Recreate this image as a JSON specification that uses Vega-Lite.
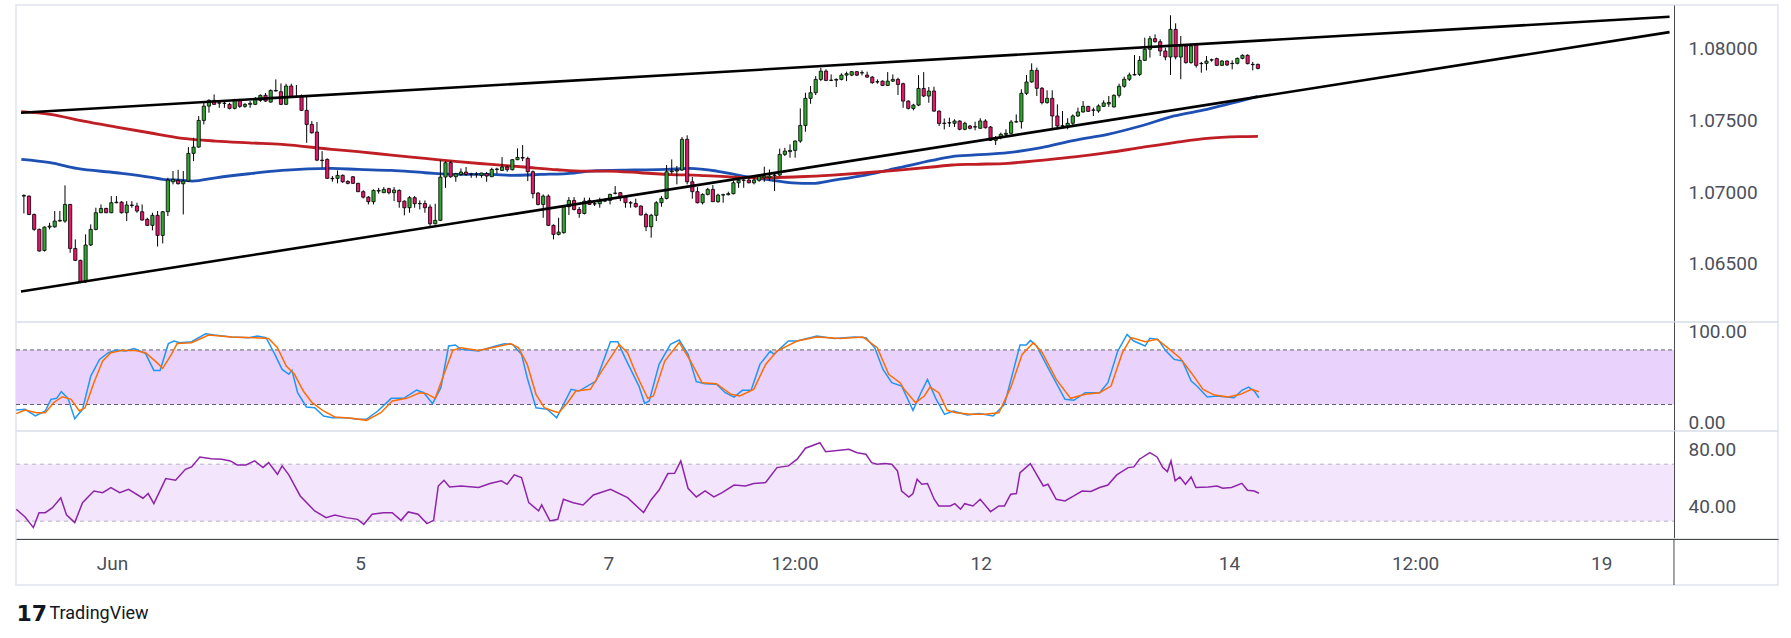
{
  "$schema": "https://vega.github.io/schema/vega-lite/v6.json",
  "background": "#ffffff",
  "padding": {"left": 14, "top": 4, "right": 15, "bottom": 15},
  "autosize": {"type": "pad"},
  "bounds": "flush",
  "spacing": 0,
  "resolve": {"scale": {"color": "independent"}},
  "datasets": {
    "candles": [
      {"t":-18,"o":1.06972,"h":1.06984,"l":1.06851,"c":1.06977},
      {"t":-17,"o":1.06972,"h":1.06977,"l":1.0684,"c":1.06844},
      {"t":-16,"o":1.06844,"h":1.0685,"l":1.0673,"c":1.0674},
      {"t":-15,"o":1.0674,"h":1.06745,"l":1.06585,"c":1.06589},
      {"t":-14,"o":1.06593,"h":1.0676,"l":1.06585,"c":1.06756},
      {"t":-13,"o":1.06756,"h":1.06786,"l":1.0674,"c":1.06763},
      {"t":-12,"o":1.06758,"h":1.06868,"l":1.06751,"c":1.06798},
      {"t":-11,"o":1.06798,"h":1.06868,"l":1.06795,"c":1.06803},
      {"t":-10,"o":1.06798,"h":1.07047,"l":1.06786,"c":1.06914},
      {"t":-9,"o":1.06914,"h":1.06918,"l":1.06577,"c":1.06607},
      {"t":-8,"o":1.06607,"h":1.0667,"l":1.06519,"c":1.06524},
      {"t":-7,"o":1.06524,"h":1.06528,"l":1.06368,"c":1.06375},
      {"t":-6,"o":1.06375,"h":1.06705,"l":1.06368,"c":1.06631},
      {"t":-5,"o":1.06631,"h":1.06775,"l":1.06624,"c":1.0674},
      {"t":-4,"o":1.0674,"h":1.06891,"l":1.06733,"c":1.06856},
      {"t":-3,"o":1.06856,"h":1.06914,"l":1.06853,"c":1.06886},
      {"t":-2,"o":1.06886,"h":1.06891,"l":1.06853,"c":1.06856},
      {"t":-1,"o":1.06856,"h":1.06972,"l":1.06853,"c":1.06926},
      {"t":0,"o":1.06926,"h":1.06972,"l":1.06922,"c":1.0693},
      {"t":1,"o":1.0693,"h":1.06937,"l":1.06851,"c":1.06856},
      {"t":2,"o":1.06856,"h":1.06937,"l":1.06798,"c":1.0691},
      {"t":3,"o":1.0691,"h":1.06937,"l":1.06891,"c":1.06907},
      {"t":4,"o":1.06903,"h":1.06926,"l":1.06856,"c":1.06868},
      {"t":5,"o":1.06863,"h":1.06914,"l":1.06802,"c":1.06805},
      {"t":6,"o":1.0681,"h":1.06821,"l":1.06763,"c":1.06768},
      {"t":7,"o":1.06768,"h":1.06856,"l":1.06733,"c":1.06838},
      {"t":8,"o":1.06838,"h":1.06868,"l":1.06621,"c":1.06698},
      {"t":9,"o":1.06698,"h":1.06868,"l":1.06642,"c":1.06863},
      {"t":10,"o":1.06863,"h":1.071,"l":1.06833,"c":1.07084},
      {"t":11,"o":1.07072,"h":1.07147,"l":1.07054,"c":1.07089},
      {"t":12,"o":1.07082,"h":1.07156,"l":1.07054,"c":1.07058},
      {"t":13,"o":1.07058,"h":1.07147,"l":1.06844,"c":1.07077},
      {"t":14,"o":1.07077,"h":1.07314,"l":1.07072,"c":1.0727},
      {"t":15,"o":1.0727,"h":1.07379,"l":1.07216,"c":1.07314},
      {"t":16,"o":1.07314,"h":1.0753,"l":1.07309,"c":1.075},
      {"t":17,"o":1.075,"h":1.07623,"l":1.07472,"c":1.076},
      {"t":18,"o":1.076,"h":1.07647,"l":1.07554,"c":1.0764},
      {"t":19,"o":1.0764,"h":1.07681,"l":1.07609,"c":1.07612},
      {"t":20,"o":1.07623,"h":1.07635,"l":1.07588,"c":1.0762},
      {"t":21,"o":1.0762,"h":1.07635,"l":1.07588,"c":1.07619},
      {"t":22,"o":1.07612,"h":1.07623,"l":1.07577,"c":1.07584},
      {"t":23,"o":1.07584,"h":1.07651,"l":1.07577,"c":1.07644},
      {"t":24,"o":1.07644,"h":1.07651,"l":1.07588,"c":1.07598},
      {"t":25,"o":1.07598,"h":1.0762,"l":1.07588,"c":1.07612},
      {"t":26,"o":1.07612,"h":1.07635,"l":1.07588,"c":1.07619},
      {"t":27,"o":1.07612,"h":1.07663,"l":1.07607,"c":1.07651},
      {"t":28,"o":1.0764,"h":1.07681,"l":1.0763,"c":1.07675},
      {"t":29,"o":1.07675,"h":1.07691,"l":1.0763,"c":1.07635},
      {"t":30,"o":1.07628,"h":1.07716,"l":1.07623,"c":1.07709},
      {"t":31,"o":1.07709,"h":1.07786,"l":1.07702,"c":1.07705},
      {"t":32,"o":1.077,"h":1.07758,"l":1.07607,"c":1.07612},
      {"t":33,"o":1.07612,"h":1.07756,"l":1.07607,"c":1.0774},
      {"t":34,"o":1.0774,"h":1.07756,"l":1.07658,"c":1.07663},
      {"t":35,"o":1.07663,"h":1.07747,"l":1.07658,"c":1.07668},
      {"t":36,"o":1.07663,"h":1.07681,"l":1.07565,"c":1.0757},
      {"t":37,"o":1.0757,"h":1.07663,"l":1.07344,"c":1.07472},
      {"t":38,"o":1.07472,"h":1.07495,"l":1.07407,"c":1.07414},
      {"t":39,"o":1.07419,"h":1.07489,"l":1.07216,"c":1.07223},
      {"t":40,"o":1.07223,"h":1.07286,"l":1.0717,"c":1.0722},
      {"t":41,"o":1.07228,"h":1.07235,"l":1.07093,"c":1.07096},
      {"t":42,"o":1.07096,"h":1.07112,"l":1.07072,"c":1.07093},
      {"t":43,"o":1.07096,"h":1.07151,"l":1.07061,"c":1.07117},
      {"t":44,"o":1.07117,"h":1.07123,"l":1.07065,"c":1.07072},
      {"t":45,"o":1.07075,"h":1.07082,"l":1.07054,"c":1.07061},
      {"t":46,"o":1.07107,"h":1.07112,"l":1.07058,"c":1.07061},
      {"t":47,"o":1.07061,"h":1.07065,"l":1.07,"c":1.07003},
      {"t":48,"o":1.07003,"h":1.07012,"l":1.06956,"c":1.06965},
      {"t":49,"o":1.06965,"h":1.06972,"l":1.06914,"c":1.06933},
      {"t":50,"o":1.06933,"h":1.07019,"l":1.06914,"c":1.07012},
      {"t":51,"o":1.07007,"h":1.0703,"l":1.06989,"c":1.07012},
      {"t":52,"o":1.06996,"h":1.07035,"l":1.06993,"c":1.07019},
      {"t":53,"o":1.07024,"h":1.0703,"l":1.06984,"c":1.06996},
      {"t":54,"o":1.06996,"h":1.07035,"l":1.06937,"c":1.07014},
      {"t":55,"o":1.07012,"h":1.07019,"l":1.06891,"c":1.06933},
      {"t":56,"o":1.06937,"h":1.06942,"l":1.06838,"c":1.06891},
      {"t":57,"o":1.06891,"h":1.06972,"l":1.06856,"c":1.06961},
      {"t":58,"o":1.06961,"h":1.06972,"l":1.06891,"c":1.06919},
      {"t":59,"o":1.06919,"h":1.06942,"l":1.06879,"c":1.06921},
      {"t":60,"o":1.06921,"h":1.06942,"l":1.06856,"c":1.06891},
      {"t":61,"o":1.06896,"h":1.06914,"l":1.06756,"c":1.06779},
      {"t":62,"o":1.06779,"h":1.06919,"l":1.06775,"c":1.06803},
      {"t":63,"o":1.06803,"h":1.07221,"l":1.06798,"c":1.07105},
      {"t":64,"o":1.07105,"h":1.07216,"l":1.0703,"c":1.07205},
      {"t":65,"o":1.07205,"h":1.07216,"l":1.071,"c":1.07107},
      {"t":66,"o":1.07107,"h":1.07135,"l":1.07072,"c":1.07128},
      {"t":67,"o":1.07123,"h":1.07165,"l":1.07112,"c":1.0714},
      {"t":68,"o":1.0714,"h":1.07175,"l":1.07112,"c":1.07123},
      {"t":69,"o":1.07126,"h":1.07135,"l":1.071,"c":1.07123},
      {"t":70,"o":1.07123,"h":1.0714,"l":1.071,"c":1.07126},
      {"t":71,"o":1.07117,"h":1.07135,"l":1.071,"c":1.07133},
      {"t":72,"o":1.0713,"h":1.0714,"l":1.07072,"c":1.07112},
      {"t":73,"o":1.07107,"h":1.0717,"l":1.07105,"c":1.07158},
      {"t":74,"o":1.07158,"h":1.0717,"l":1.07128,"c":1.07161},
      {"t":75,"o":1.07151,"h":1.07244,"l":1.07147,"c":1.07175},
      {"t":76,"o":1.07175,"h":1.07189,"l":1.07142,"c":1.07156},
      {"t":77,"o":1.07156,"h":1.0723,"l":1.07151,"c":1.07226},
      {"t":78,"o":1.07226,"h":1.07305,"l":1.07223,"c":1.07242},
      {"t":79,"o":1.07242,"h":1.07328,"l":1.07216,"c":1.07237},
      {"t":80,"o":1.07235,"h":1.07247,"l":1.07077,"c":1.07142},
      {"t":81,"o":1.07142,"h":1.07151,"l":1.06956,"c":1.06989},
      {"t":82,"o":1.06993,"h":1.07,"l":1.06907,"c":1.06914},
      {"t":83,"o":1.06914,"h":1.06984,"l":1.06821,"c":1.06972},
      {"t":84,"o":1.06972,"h":1.06984,"l":1.06763,"c":1.06768},
      {"t":85,"o":1.06768,"h":1.06775,"l":1.0667,"c":1.06705},
      {"t":86,"o":1.06705,"h":1.06821,"l":1.06698,"c":1.06721},
      {"t":87,"o":1.06717,"h":1.0691,"l":1.0671,"c":1.06898},
      {"t":88,"o":1.06898,"h":1.06965,"l":1.0684,"c":1.06942},
      {"t":89,"o":1.06942,"h":1.06965,"l":1.06872,"c":1.06879},
      {"t":90,"o":1.06879,"h":1.06896,"l":1.06821,"c":1.06851},
      {"t":91,"o":1.06851,"h":1.06961,"l":1.06844,"c":1.06937},
      {"t":92,"o":1.06942,"h":1.06961,"l":1.0691,"c":1.06914},
      {"t":93,"o":1.06919,"h":1.06942,"l":1.06903,"c":1.06917},
      {"t":94,"o":1.06919,"h":1.06961,"l":1.06891,"c":1.06942},
      {"t":95,"o":1.06937,"h":1.06954,"l":1.0693,"c":1.06942},
      {"t":96,"o":1.06942,"h":1.06989,"l":1.06914,"c":1.06984},
      {"t":97,"o":1.06991,"h":1.07042,"l":1.06984,"c":1.06993},
      {"t":98,"o":1.06996,"h":1.07,"l":1.06937,"c":1.06961},
      {"t":99,"o":1.06965,"h":1.06972,"l":1.06891,"c":1.06926},
      {"t":100,"o":1.06926,"h":1.06937,"l":1.06891,"c":1.06924},
      {"t":101,"o":1.06921,"h":1.06954,"l":1.06891,"c":1.06898},
      {"t":102,"o":1.06903,"h":1.06907,"l":1.06838,"c":1.0684},
      {"t":103,"o":1.06844,"h":1.06856,"l":1.06728,"c":1.06758},
      {"t":104,"o":1.06758,"h":1.06849,"l":1.06682,"c":1.06838},
      {"t":105,"o":1.06838,"h":1.06937,"l":1.06798,"c":1.06926},
      {"t":106,"o":1.06926,"h":1.06972,"l":1.06898,"c":1.06956},
      {"t":107,"o":1.06956,"h":1.07189,"l":1.06949,"c":1.07142},
      {"t":108,"o":1.07142,"h":1.07228,"l":1.07128,"c":1.07147},
      {"t":109,"o":1.07147,"h":1.07182,"l":1.07054,"c":1.07154},
      {"t":110,"o":1.07154,"h":1.07384,"l":1.07147,"c":1.07368},
      {"t":111,"o":1.07368,"h":1.07396,"l":1.07054,"c":1.07072},
      {"t":112,"o":1.07072,"h":1.07105,"l":1.06954,"c":1.07003},
      {"t":113,"o":1.07003,"h":1.07035,"l":1.06921,"c":1.06926},
      {"t":114,"o":1.06926,"h":1.06991,"l":1.06914,"c":1.06984},
      {"t":115,"o":1.06984,"h":1.0703,"l":1.06977,"c":1.07019},
      {"t":116,"o":1.07019,"h":1.07049,"l":1.06931,"c":1.06933},
      {"t":117,"o":1.06933,"h":1.06989,"l":1.06926,"c":1.06979},
      {"t":118,"o":1.06979,"h":1.06989,"l":1.06926,"c":1.06982},
      {"t":119,"o":1.06982,"h":1.07003,"l":1.06977,"c":1.06989},
      {"t":120,"o":1.06989,"h":1.07077,"l":1.06984,"c":1.07065},
      {"t":121,"o":1.07065,"h":1.071,"l":1.0703,"c":1.07082},
      {"t":122,"o":1.07082,"h":1.071,"l":1.0703,"c":1.07084},
      {"t":123,"o":1.07084,"h":1.07112,"l":1.07061,"c":1.07065},
      {"t":124,"o":1.07065,"h":1.07112,"l":1.07054,"c":1.07084},
      {"t":125,"o":1.07082,"h":1.07123,"l":1.07072,"c":1.0711},
      {"t":126,"o":1.071,"h":1.07177,"l":1.07072,"c":1.07112},
      {"t":127,"o":1.071,"h":1.07158,"l":1.07077,"c":1.07112},
      {"t":128,"o":1.07117,"h":1.07135,"l":1.07007,"c":1.07119},
      {"t":129,"o":1.07119,"h":1.07303,"l":1.07112,"c":1.07263},
      {"t":130,"o":1.07263,"h":1.07309,"l":1.07251,"c":1.07286},
      {"t":131,"o":1.07282,"h":1.07333,"l":1.0724,"c":1.07291},
      {"t":132,"o":1.07291,"h":1.07361,"l":1.0724,"c":1.07356},
      {"t":133,"o":1.07356,"h":1.07584,"l":1.07344,"c":1.07465},
      {"t":134,"o":1.07465,"h":1.07693,"l":1.07421,"c":1.07654},
      {"t":135,"o":1.07654,"h":1.0774,"l":1.07616,"c":1.07693},
      {"t":136,"o":1.07693,"h":1.07809,"l":1.07677,"c":1.07786},
      {"t":137,"o":1.07786,"h":1.07867,"l":1.07774,"c":1.07844},
      {"t":138,"o":1.07844,"h":1.07856,"l":1.07774,"c":1.07779},
      {"t":139,"o":1.07779,"h":1.07821,"l":1.07774,"c":1.07781},
      {"t":140,"o":1.07781,"h":1.07793,"l":1.07733,"c":1.07786},
      {"t":141,"o":1.07786,"h":1.07828,"l":1.07779,"c":1.07816},
      {"t":142,"o":1.07816,"h":1.0784,"l":1.07774,"c":1.07826},
      {"t":143,"o":1.07816,"h":1.07844,"l":1.07809,"c":1.0784},
      {"t":144,"o":1.0784,"h":1.07844,"l":1.07809,"c":1.07816},
      {"t":145,"o":1.07831,"h":1.07849,"l":1.07814,"c":1.07833},
      {"t":146,"o":1.07816,"h":1.0784,"l":1.07798,"c":1.07802},
      {"t":147,"o":1.07802,"h":1.07809,"l":1.07756,"c":1.07763},
      {"t":148,"o":1.07768,"h":1.07786,"l":1.07756,"c":1.0777},
      {"t":149,"o":1.07774,"h":1.07779,"l":1.0774,"c":1.07744},
      {"t":150,"o":1.07744,"h":1.07837,"l":1.0774,"c":1.07774},
      {"t":151,"o":1.07774,"h":1.07821,"l":1.07768,"c":1.07786},
      {"t":152,"o":1.07786,"h":1.07798,"l":1.07677,"c":1.07751},
      {"t":153,"o":1.07756,"h":1.07763,"l":1.07588,"c":1.07635},
      {"t":154,"o":1.07635,"h":1.0764,"l":1.07577,"c":1.07584},
      {"t":155,"o":1.07584,"h":1.07616,"l":1.0757,"c":1.07607},
      {"t":156,"o":1.07607,"h":1.07816,"l":1.076,"c":1.07723},
      {"t":157,"o":1.07723,"h":1.07837,"l":1.07663,"c":1.0767},
      {"t":158,"o":1.0767,"h":1.07733,"l":1.07623,"c":1.07705},
      {"t":159,"o":1.07705,"h":1.07735,"l":1.07561,"c":1.07565},
      {"t":160,"o":1.07565,"h":1.0757,"l":1.07461,"c":1.07479},
      {"t":161,"o":1.07479,"h":1.07514,"l":1.07437,"c":1.07481},
      {"t":162,"o":1.07484,"h":1.07519,"l":1.07454,"c":1.07482},
      {"t":163,"o":1.0748,"h":1.07508,"l":1.07454,"c":1.07496},
      {"t":164,"o":1.07496,"h":1.07501,"l":1.07431,"c":1.07438},
      {"t":165,"o":1.07438,"h":1.07491,"l":1.07431,"c":1.0748},
      {"t":166,"o":1.07461,"h":1.07468,"l":1.07438,"c":1.07445},
      {"t":167,"o":1.07454,"h":1.07491,"l":1.07431,"c":1.07456},
      {"t":168,"o":1.07445,"h":1.07515,"l":1.07443,"c":1.07496},
      {"t":169,"o":1.07496,"h":1.07508,"l":1.07443,"c":1.07449},
      {"t":170,"o":1.07454,"h":1.07461,"l":1.07356,"c":1.07361},
      {"t":171,"o":1.07361,"h":1.07391,"l":1.07329,"c":1.0738},
      {"t":172,"o":1.0738,"h":1.07415,"l":1.07368,"c":1.07403},
      {"t":173,"o":1.07403,"h":1.07438,"l":1.07391,"c":1.0741},
      {"t":174,"o":1.0741,"h":1.07503,"l":1.07403,"c":1.07489},
      {"t":175,"o":1.07489,"h":1.07542,"l":1.07484,"c":1.07491},
      {"t":176,"o":1.07491,"h":1.07717,"l":1.07443,"c":1.07689},
      {"t":177,"o":1.07689,"h":1.07817,"l":1.07677,"c":1.07768},
      {"t":178,"o":1.07768,"h":1.07898,"l":1.07763,"c":1.07849},
      {"t":179,"o":1.07849,"h":1.07868,"l":1.0767,"c":1.07724},
      {"t":180,"o":1.07724,"h":1.07733,"l":1.07612,"c":1.07624},
      {"t":181,"o":1.07624,"h":1.0771,"l":1.07617,"c":1.07654},
      {"t":182,"o":1.07654,"h":1.0771,"l":1.07445,"c":1.07531},
      {"t":183,"o":1.07531,"h":1.07612,"l":1.07454,"c":1.07461},
      {"t":184,"o":1.07461,"h":1.07566,"l":1.07449,"c":1.07463},
      {"t":185,"o":1.07456,"h":1.07515,"l":1.07438,"c":1.0748},
      {"t":186,"o":1.0748,"h":1.07542,"l":1.07466,"c":1.07531},
      {"t":187,"o":1.07531,"h":1.07589,"l":1.07524,"c":1.07559},
      {"t":188,"o":1.07559,"h":1.07635,"l":1.07554,"c":1.07598},
      {"t":189,"o":1.07598,"h":1.07601,"l":1.07559,"c":1.07563},
      {"t":190,"o":1.07573,"h":1.07589,"l":1.07531,"c":1.07571},
      {"t":191,"o":1.07566,"h":1.07612,"l":1.07554,"c":1.07601},
      {"t":192,"o":1.07598,"h":1.0764,"l":1.07594,"c":1.07622},
      {"t":193,"o":1.07615,"h":1.0767,"l":1.07594,"c":1.07625},
      {"t":194,"o":1.07594,"h":1.07682,"l":1.0759,"c":1.07675},
      {"t":195,"o":1.07675,"h":1.07756,"l":1.07659,"c":1.07738},
      {"t":196,"o":1.07738,"h":1.07805,"l":1.07728,"c":1.07787},
      {"t":197,"o":1.07787,"h":1.07833,"l":1.07775,"c":1.07817},
      {"t":198,"o":1.07817,"h":1.07956,"l":1.07814,"c":1.07821},
      {"t":199,"o":1.07821,"h":1.07949,"l":1.0781,"c":1.07919},
      {"t":200,"o":1.07919,"h":1.08077,"l":1.07914,"c":1.07996},
      {"t":201,"o":1.07996,"h":1.08089,"l":1.07938,"c":1.0807},
      {"t":202,"o":1.0807,"h":1.081,"l":1.08042,"c":1.08049},
      {"t":203,"o":1.08049,"h":1.08066,"l":1.07949,"c":1.07984},
      {"t":204,"o":1.07984,"h":1.08007,"l":1.07919,"c":1.07942},
      {"t":205,"o":1.07942,"h":1.08233,"l":1.07817,"c":1.08135},
      {"t":206,"o":1.08135,"h":1.08177,"l":1.07926,"c":1.07942},
      {"t":207,"o":1.07942,"h":1.08089,"l":1.07787,"c":1.08019},
      {"t":208,"o":1.08019,"h":1.08031,"l":1.07896,"c":1.07903},
      {"t":209,"o":1.07903,"h":1.08035,"l":1.07896,"c":1.08019},
      {"t":210,"o":1.08031,"h":1.08035,"l":1.07868,"c":1.07884},
      {"t":211,"o":1.07898,"h":1.07908,"l":1.07833,"c":1.07896},
      {"t":212,"o":1.07898,"h":1.07949,"l":1.07849,"c":1.07914},
      {"t":213,"o":1.07921,"h":1.07931,"l":1.0791,"c":1.07923},
      {"t":214,"o":1.07931,"h":1.07938,"l":1.0788,"c":1.07884},
      {"t":215,"o":1.07884,"h":1.07921,"l":1.0788,"c":1.07914},
      {"t":216,"o":1.07914,"h":1.07919,"l":1.0788,"c":1.07887},
      {"t":217,"o":1.07898,"h":1.07919,"l":1.07856,"c":1.07896},
      {"t":218,"o":1.07898,"h":1.07938,"l":1.07891,"c":1.07933},
      {"t":219,"o":1.07933,"h":1.07961,"l":1.07926,"c":1.07954},
      {"t":220,"o":1.07954,"h":1.07961,"l":1.07891,"c":1.07896},
      {"t":221,"o":1.07891,"h":1.07908,"l":1.07849,"c":1.07889},
      {"t":222,"o":1.07891,"h":1.07896,"l":1.07856,"c":1.07863}
    ],
    "ma": [
      {"s":"b","t":-18.5,"v":1.07228},{"s":"b","t":-12.9,"v":1.07205},{"s":"b","t":-7.7,"v":1.07165},
      {"s":"b","t":0,"v":1.07135},{"s":"b","t":6.4,"v":1.07105},{"s":"b","t":9,"v":1.07089},
      {"s":"b","t":12.9,"v":1.07082},{"s":"b","t":14.8,"v":1.07077},{"s":"b","t":19.3,"v":1.071},
      {"s":"b","t":25.8,"v":1.07128},{"s":"b","t":32.2,"v":1.07151},{"s":"b","t":41.9,"v":1.07165},
      {"s":"b","t":47,"v":1.07158},{"s":"b","t":53.5,"v":1.07151},{"s":"b","t":60,"v":1.07135},
      {"s":"b","t":66.4,"v":1.07123},{"s":"b","t":72.9,"v":1.07123},{"s":"b","t":76.7,"v":1.07117},
      {"s":"b","t":82.5,"v":1.07123},{"s":"b","t":89,"v":1.07133},{"s":"b","t":92.2,"v":1.07147},
      {"s":"b","t":100.6,"v":1.07154},{"s":"b","t":107,"v":1.07158},{"s":"b","t":111.5,"v":1.07165},
      {"s":"b","t":116.7,"v":1.07147},{"s":"b","t":121.8,"v":1.07112},{"s":"b","t":126.4,"v":1.07089},
      {"s":"b","t":131.5,"v":1.07065},{"s":"b","t":135.4,"v":1.07061},{"s":"b","t":139.3,"v":1.07082},
      {"s":"b","t":145.7,"v":1.07119},{"s":"b","t":152.2,"v":1.0717},{"s":"b","t":158.6,"v":1.07221},
      {"s":"b","t":162.5,"v":1.07248},{"s":"b","t":167,"v":1.07259},{"s":"b","t":173.4,"v":1.07275},
      {"s":"b","t":179.9,"v":1.0731},{"s":"b","t":186.3,"v":1.07361},{"s":"b","t":192.8,"v":1.07403},
      {"s":"b","t":199.2,"v":1.07461},{"s":"b","t":205.7,"v":1.07531},{"s":"b","t":212.1,"v":1.07577},
      {"s":"b","t":218.5,"v":1.07635},{"s":"b","t":222,"v":1.07668},
      {"s":"r","t":-18.5,"v":1.07561},{"s":"r","t":-12.9,"v":1.07542},{"s":"r","t":-6.4,"v":1.07495},
      {"s":"r","t":0,"v":1.07454},{"s":"r","t":6.4,"v":1.07414},{"s":"r","t":12.9,"v":1.07375},
      {"s":"r","t":19.3,"v":1.07356},{"s":"r","t":25.8,"v":1.07344},{"s":"r","t":32.2,"v":1.07333},
      {"s":"r","t":41.9,"v":1.07298},{"s":"r","t":47,"v":1.07282},{"s":"r","t":53.5,"v":1.07258},
      {"s":"r","t":60,"v":1.07235},{"s":"r","t":66.4,"v":1.07212},{"s":"r","t":72.9,"v":1.07193},
      {"s":"r","t":79.3,"v":1.07175},{"s":"r","t":85.8,"v":1.07156},{"s":"r","t":90.9,"v":1.07147},
      {"s":"r","t":95.4,"v":1.07147},{"s":"r","t":101.9,"v":1.07135},{"s":"r","t":107,"v":1.07123},
      {"s":"r","t":113.4,"v":1.07117},{"s":"r","t":119.9,"v":1.07105},{"s":"r","t":126.4,"v":1.071},
      {"s":"r","t":132.8,"v":1.07107},{"s":"r","t":139.3,"v":1.07119},{"s":"r","t":145.7,"v":1.07135},
      {"s":"r","t":152.2,"v":1.07154},{"s":"r","t":158.6,"v":1.07175},{"s":"r","t":162.5,"v":1.07189},
      {"s":"r","t":167,"v":1.07194},{"s":"r","t":173.4,"v":1.07201},{"s":"r","t":179.9,"v":1.07222},
      {"s":"r","t":186.3,"v":1.07245},{"s":"r","t":192.8,"v":1.07275},{"s":"r","t":199.2,"v":1.0731},
      {"s":"r","t":205.7,"v":1.07345},{"s":"r","t":212.1,"v":1.07375},{"s":"r","t":218.5,"v":1.07387},
      {"s":"r","t":222,"v":1.07389}
    ],
    "trend": [
      {"id":"u","t":-18.56,"p":1.07554},{"id":"u","t":302.06,"p":1.08223},
      {"id":"l","t":-18.56,"p":1.06307},{"id":"l","t":302.06,"p":1.08116}
    ],
    "stoch": [
      {"s":"k","t":-18.5,"v":14},{"s":"k","t":-16.8,"v":14.7},{"s":"k","t":-14.8,"v":7.4},{"s":"k","t":-12.9,"v":12.9},
      {"s":"k","t":-11.8,"v":25.7},{"s":"k","t":-10.7,"v":26.8},{"s":"k","t":-9.8,"v":34.1},{"s":"k","t":-8.5,"v":26.8},
      {"s":"k","t":-7.2,"v":4.4},{"s":"k","t":-5.7,"v":14.7},{"s":"k","t":-4.1,"v":51.3},{"s":"k","t":-2.4,"v":69.6},
      {"s":"k","t":-0.7,"v":77},{"s":"k","t":0.9,"v":79.9},{"s":"k","t":2.6,"v":78.8},{"s":"k","t":4.3,"v":81.4},
      {"s":"k","t":6.5,"v":75.9},{"s":"k","t":8.1,"v":57.5},{"s":"k","t":9.3,"v":57.5},{"s":"k","t":10.9,"v":86.9},
      {"s":"k","t":12,"v":89.8},{"s":"k","t":13.1,"v":88},{"s":"k","t":15.4,"v":89.1},{"s":"k","t":18.1,"v":97.8},
      {"s":"k","t":19.8,"v":96.4},{"s":"k","t":23.1,"v":94.2},{"s":"k","t":26.5,"v":93.5},{"s":"k","t":28.1,"v":95.3},
      {"s":"k","t":29.8,"v":93.5},{"s":"k","t":31.5,"v":75.1},{"s":"k","t":32.9,"v":58.6},{"s":"k","t":34.2,"v":53.2},
      {"s":"k","t":34.8,"v":57.5},{"s":"k","t":35.9,"v":33},{"s":"k","t":37.6,"v":17.3},{"s":"k","t":39.2,"v":16.5},
      {"s":"k","t":40.9,"v":7.4},{"s":"k","t":42.6,"v":5.5},{"s":"k","t":45.3,"v":5.5},{"s":"k","t":47.5,"v":3.7},
      {"s":"k","t":49.2,"v":3.7},{"s":"k","t":51.4,"v":12.9},{"s":"k","t":54,"v":26.8},{"s":"k","t":56.4,"v":26.8},
      {"s":"k","t":58.9,"v":35.9},{"s":"k","t":60.3,"v":33},{"s":"k","t":62,"v":20.9},{"s":"k","t":63.6,"v":38.5},
      {"s":"k","t":65.1,"v":84.3},{"s":"k","t":66.4,"v":85.4},{"s":"k","t":67.5,"v":80.6},{"s":"k","t":70.9,"v":78.8},
      {"s":"k","t":74.2,"v":84.3},{"s":"k","t":75.9,"v":86.9},{"s":"k","t":77.5,"v":86.1},{"s":"k","t":79.2,"v":75.1},
      {"s":"k","t":80.3,"v":49.5},{"s":"k","t":82,"v":16.5},{"s":"k","t":84.2,"v":14.7},{"s":"k","t":86,"v":5.5},
      {"s":"k","t":87,"v":16.5},{"s":"k","t":88.8,"v":36.7},{"s":"k","t":90.3,"v":34.8},{"s":"k","t":93.6,"v":45.8},
      {"s":"k","t":96.4,"v":89.1},{"s":"k","t":97.8,"v":89.1},{"s":"k","t":99.2,"v":71.5},{"s":"k","t":101.9,"v":40.3},
      {"s":"k","t":103,"v":21.3},{"s":"k","t":103.9,"v":23.9},{"s":"k","t":105.8,"v":64.1},{"s":"k","t":108,"v":86.1},
      {"s":"k","t":109.7,"v":90.9},{"s":"k","t":111.4,"v":75.1},{"s":"k","t":113,"v":45.1},{"s":"k","t":114.7,"v":42.9},
      {"s":"k","t":116.9,"v":42.2},{"s":"k","t":118.6,"v":33},{"s":"k","t":120.3,"v":28.2},{"s":"k","t":121.9,"v":35.6},
      {"s":"k","t":123.6,"v":35.6},{"s":"k","t":125.3,"v":64.1},{"s":"k","t":127.3,"v":78.8},{"s":"k","t":128,"v":75.1},
      {"s":"k","t":130.8,"v":89.8},{"s":"k","t":132.5,"v":89.8},{"s":"k","t":136.3,"v":95.3},{"s":"k","t":139.7,"v":92.7},
      {"s":"k","t":143.6,"v":94.2},{"s":"k","t":145.8,"v":93.5},{"s":"k","t":147.5,"v":82.5},{"s":"k","t":149.1,"v":58.6},
      {"s":"k","t":150.8,"v":44},{"s":"k","t":152.7,"v":40.3},{"s":"k","t":154.9,"v":13.6},{"s":"k","t":156.6,"v":34.8},
      {"s":"k","t":157.7,"v":47.6},{"s":"k","t":159.3,"v":26.8},{"s":"k","t":161,"v":9.2},{"s":"k","t":162.7,"v":12.9},
      {"s":"k","t":165.4,"v":8.5},{"s":"k","t":167.7,"v":10},{"s":"k","t":170.4,"v":7.4},{"s":"k","t":172.6,"v":20.2},
      {"s":"k","t":175.6,"v":85.4},{"s":"k","t":176.8,"v":85.4},{"s":"k","t":177.6,"v":90.5},{"s":"k","t":178.8,"v":84.3},
      {"s":"k","t":181,"v":60.5},{"s":"k","t":184.3,"v":25.7},{"s":"k","t":186,"v":24.6},{"s":"k","t":188.2,"v":33},
      {"s":"k","t":191,"v":33},{"s":"k","t":192.6,"v":44},{"s":"k","t":194.5,"v":78.8},{"s":"k","t":196.3,"v":97.1},
      {"s":"k","t":197.6,"v":89.8},{"s":"k","t":199.8,"v":84.3},{"s":"k","t":200.7,"v":92.7},{"s":"k","t":202.3,"v":91.6},
      {"s":"k","t":203.7,"v":79.5},{"s":"k","t":205.4,"v":69.6},{"s":"k","t":207,"v":67.8},{"s":"k","t":208.7,"v":45.8},
      {"s":"k","t":209.8,"v":40.3},{"s":"k","t":211.8,"v":28.2},{"s":"k","t":213.7,"v":29.4},{"s":"k","t":217,"v":27.5},
      {"s":"k","t":218.5,"v":35.6},{"s":"k","t":219.8,"v":39.2},{"s":"k","t":220.9,"v":34.8},{"s":"k","t":221.8,"v":27.5},
      {"s":"d","t":-18.5,"v":10},{"s":"d","t":-16.8,"v":14},{"s":"d","t":-14.6,"v":11},{"s":"d","t":-12.9,"v":11},
      {"s":"d","t":-11.3,"v":22},{"s":"d","t":-9.6,"v":28.6},{"s":"d","t":-7.9,"v":25.7},{"s":"d","t":-6.3,"v":12.9},
      {"s":"d","t":-5.2,"v":16.5},{"s":"d","t":-3.5,"v":44},{"s":"d","t":-1.8,"v":67.8},{"s":"d","t":-0.2,"v":77},
      {"s":"d","t":2,"v":79.5},{"s":"d","t":4.3,"v":79.5},{"s":"d","t":6.5,"v":77},{"s":"d","t":8.7,"v":66},
      {"s":"d","t":9.8,"v":59.8},{"s":"d","t":11.5,"v":75.1},{"s":"d","t":12.6,"v":87.2},{"s":"d","t":15.4,"v":88},
      {"s":"d","t":18.7,"v":96.4},{"s":"d","t":23.1,"v":94.2},{"s":"d","t":27.6,"v":93.5},{"s":"d","t":30.3,"v":92.7},
      {"s":"d","t":32,"v":82.5},{"s":"d","t":33.7,"v":62.3},{"s":"d","t":35.3,"v":53.2},{"s":"d","t":37,"v":34.8},
      {"s":"d","t":38.7,"v":22},{"s":"d","t":40.9,"v":12.9},{"s":"d","t":43.1,"v":6.3},{"s":"d","t":46.4,"v":4.8},
      {"s":"d","t":49.2,"v":2.6},{"s":"d","t":52,"v":11},{"s":"d","t":54.2,"v":23.9},{"s":"d","t":57,"v":26.8},
      {"s":"d","t":59.5,"v":33},{"s":"d","t":60.9,"v":31.9},{"s":"d","t":62.5,"v":26.8},{"s":"d","t":64.2,"v":53.2},
      {"s":"d","t":65.9,"v":79.5},{"s":"d","t":67.5,"v":82.5},{"s":"d","t":70.9,"v":79.5},{"s":"d","t":74.2,"v":83.2},
      {"s":"d","t":77,"v":86.9},{"s":"d","t":78.6,"v":82.5},{"s":"d","t":80.3,"v":64.1},{"s":"d","t":82,"v":31.2},
      {"s":"d","t":83.6,"v":16.5},{"s":"d","t":85.3,"v":12.9},{"s":"d","t":86.4,"v":11},{"s":"d","t":88.1,"v":22},
      {"s":"d","t":89.7,"v":34.8},{"s":"d","t":92.5,"v":36.7},{"s":"d","t":94.7,"v":56.8},{"s":"d","t":98.1,"v":86.1},
      {"s":"d","t":99.7,"v":77},{"s":"d","t":101.4,"v":53.2},{"s":"d","t":103.6,"v":26.8},{"s":"d","t":104.7,"v":29.4},
      {"s":"d","t":106.9,"v":67.8},{"s":"d","t":109.7,"v":88},{"s":"d","t":111.9,"v":67.8},{"s":"d","t":114.1,"v":44},
      {"s":"d","t":116.9,"v":42.9},{"s":"d","t":119.7,"v":31.2},{"s":"d","t":121.4,"v":29.4},{"s":"d","t":124.1,"v":36.7},
      {"s":"d","t":126.4,"v":64.1},{"s":"d","t":128.6,"v":78.8},{"s":"d","t":132.5,"v":89.8},{"s":"d","t":136.3,"v":94.2},
      {"s":"d","t":140.8,"v":92.7},{"s":"d","t":145.2,"v":94.2},{"s":"d","t":148,"v":82.5},{"s":"d","t":150.2,"v":53.2},
      {"s":"d","t":152.4,"v":44},{"s":"d","t":153.2,"v":36.7},{"s":"d","t":155.4,"v":22},{"s":"d","t":157.1,"v":29.4},
      {"s":"d","t":158.2,"v":39.2},{"s":"d","t":159.9,"v":33},{"s":"d","t":161.5,"v":13.6},{"s":"d","t":163.2,"v":11},
      {"s":"d","t":166,"v":9.2},{"s":"d","t":168.8,"v":9.2},{"s":"d","t":171.5,"v":11},{"s":"d","t":173.8,"v":38.5},
      {"s":"d","t":176,"v":75.1},{"s":"d","t":178.2,"v":88},{"s":"d","t":179.9,"v":77},{"s":"d","t":182.6,"v":47.6},
      {"s":"d","t":185.4,"v":26.8},{"s":"d","t":188.2,"v":31.2},{"s":"d","t":191,"v":33},{"s":"d","t":193.2,"v":40.3},
      {"s":"d","t":195.4,"v":77},{"s":"d","t":197.1,"v":93.5},{"s":"d","t":199.8,"v":89.1},{"s":"d","t":202.1,"v":91.6},
      {"s":"d","t":204.3,"v":81.7},{"s":"d","t":206.5,"v":71.5},{"s":"d","t":208.7,"v":55},{"s":"d","t":211,"v":36.7},
      {"s":"d","t":213.2,"v":30.4},{"s":"d","t":215.9,"v":28.2},{"s":"d","t":218.2,"v":31.2},{"s":"d","t":220.4,"v":36.7},
      {"s":"d","t":221.8,"v":34.1}
    ],
    "rsi": [
      {"t":-18.5,"v":38.4},{"t":-16.8,"v":33},{"t":-15.2,"v":25.5},{"t":-14.1,"v":36},{"t":-12.9,"v":36},
      {"t":-11.5,"v":39.5},{"t":-9.9,"v":46.5},{"t":-8.8,"v":34.4},{"t":-7.2,"v":29},{"t":-5.7,"v":43},
      {"t":-3.5,"v":51.2},{"t":-1.8,"v":50},{"t":-0.2,"v":53.6},{"t":1.5,"v":50},{"t":3.2,"v":52.4},
      {"t":6,"v":46.1},{"t":7,"v":49.4},{"t":8.1,"v":42.3},{"t":10.4,"v":59.9},{"t":12.3,"v":58.7},
      {"t":14.2,"v":66.4},{"t":15.4,"v":68.1},{"t":17,"v":75.1},{"t":19.2,"v":73.9},{"t":21.2,"v":73.5},
      {"t":22.9,"v":72.3},{"t":24.2,"v":69.5},{"t":25.9,"v":69.5},{"t":27.6,"v":72.3},{"t":29.2,"v":67.6},
      {"t":30.3,"v":71.1},{"t":32,"v":62.9},{"t":32.9,"v":68.8},{"t":34.2,"v":62.5},{"t":36.4,"v":47.7},
      {"t":39.2,"v":37.2},{"t":41.4,"v":32.5},{"t":43.1,"v":34.4},{"t":45.3,"v":32.5},{"t":47.5,"v":31.3},
      {"t":48.7,"v":27.8},{"t":50.3,"v":34.9},{"t":52.5,"v":36},{"t":54.2,"v":36},{"t":55.9,"v":30.6},
      {"t":57.3,"v":36.5},{"t":59.2,"v":34.9},{"t":60.9,"v":28.3},{"t":62.2,"v":30.6},{"t":63.1,"v":54.7},
      {"t":64.2,"v":58.7},{"t":65.3,"v":54},{"t":67.5,"v":54.7},{"t":70.9,"v":53.6},{"t":73.1,"v":56.4},
      {"t":75.3,"v":58.3},{"t":76.4,"v":55.9},{"t":77.8,"v":62.5},{"t":79.2,"v":60.6},{"t":80.6,"v":43},
      {"t":82.5,"v":37.2},{"t":83.1,"v":41.4},{"t":84.7,"v":30.2},{"t":86.2,"v":31.3},{"t":87.3,"v":45.4},
      {"t":89.2,"v":43},{"t":91.1,"v":41.4},{"t":93.1,"v":48.4},{"t":96.4,"v":52.4},{"t":99.7,"v":46.5},
      {"t":102.8,"v":36},{"t":104.2,"v":44.7},{"t":105.8,"v":51.9},{"t":107.5,"v":63.4},{"t":108.8,"v":63.6},
      {"t":110,"v":72.3},{"t":111.4,"v":53.1},{"t":113,"v":47},{"t":114.7,"v":51.2},{"t":116.4,"v":47},
      {"t":118,"v":50},{"t":120.3,"v":55.4},{"t":122.5,"v":54.7},{"t":124.1,"v":56.4},{"t":126.4,"v":57.1},
      {"t":128.6,"v":67.6},{"t":130.8,"v":68.8},{"t":132.5,"v":73.5},{"t":134.1,"v":81.2},{"t":136.9,"v":85.1},
      {"t":138,"v":78.8},{"t":142.5,"v":80.5},{"t":144.1,"v":78.1},{"t":145.8,"v":77},{"t":146.9,"v":71.1},
      {"t":148,"v":69.9},{"t":149.4,"v":70.4},{"t":150.8,"v":69.9},{"t":151.9,"v":65.3},{"t":152.7,"v":51.2},
      {"t":154.1,"v":47},{"t":154.9,"v":49.4},{"t":155.7,"v":59.4},{"t":156.6,"v":55.9},{"t":157.7,"v":56.4},
      {"t":159,"v":45.4},{"t":159.9,"v":40.7},{"t":162.1,"v":40.7},{"t":163,"v":42.3},{"t":164.1,"v":38.4},
      {"t":164.9,"v":42.3},{"t":166.5,"v":40.7},{"t":167.9,"v":45.4},{"t":169.9,"v":36.7},{"t":171.5,"v":40.7},
      {"t":172.6,"v":40.7},{"t":173.8,"v":48.9},{"t":174.9,"v":49.4},{"t":175.6,"v":64.1},{"t":177.6,"v":70.4},
      {"t":180.1,"v":54.7},{"t":181,"v":55.9},{"t":182.6,"v":45.4},{"t":184.3,"v":44.2},{"t":186,"v":47.7},
      {"t":187.6,"v":51.2},{"t":189.3,"v":50.8},{"t":191,"v":53.6},{"t":192.6,"v":55.4},{"t":194.3,"v":62.5},
      {"t":196.5,"v":67.6},{"t":197.6,"v":68.1},{"t":198.7,"v":73.5},{"t":200.7,"v":78.1},{"t":202.1,"v":75.1},
      {"t":203.2,"v":67.6},{"t":204.1,"v":64.8},{"t":204.8,"v":72.3},{"t":205.6,"v":58.3},{"t":206.5,"v":61},
      {"t":207.6,"v":55.9},{"t":208.7,"v":61},{"t":209.6,"v":53.6},{"t":212,"v":54},{"t":213.7,"v":54.7},
      {"t":214.8,"v":53.1},{"t":216.5,"v":53.6},{"t":218.5,"v":56.6},{"t":219.6,"v":51.7},{"t":220.9,"v":51.2},
      {"t":221.8,"v":49.6}
    ]
  },
  "vconcat": [
    {
      "width": 1762,
      "height": 317,
      "layer": [
        {
          "data": {"name": "ma"},
          "mark": {"type": "line", "strokeWidth": 2.8, "clip": true, "interpolate": "monotone"},
          "encoding": {
            "x": {"field": "t", "type": "quantitative", "scale": {"domain": [-18.56, 322.18], "nice": false, "zero": false}, "axis": null},
            "y": {
              "field": "v", "type": "quantitative",
              "scale": {"domain": [1.06094, 1.08305], "nice": false, "zero": false},
              "axis": {
                "orient": "right", "offset": -104, "values": [1.065, 1.07, 1.075, 1.08], "format": ".5f",
                "ticks": false, "tickSize": 0, "labelPadding": 14, "domainColor": "#4a4a4a", "domainWidth": 1,
                "labelFontSize": 19, "labelColor": "#4c4f5a", "labelFont": "Roboto", "grid": false,
                "title": "TradingView", "titleX": -1625, "titleY": 608, "titleAngle": 0, "titleAlign": "left",
                "titleBaseline": "middle", "titleFont": "Roboto", "titleFontSize": 18, "titleFontWeight": "normal",
                "titleColor": "#131722"
              }
            },
            "color": {"field": "s", "type": "nominal", "scale": {"domain": ["b", "r"], "range": ["#1e50b4", "#bf1e24"]}, "legend": null}
          }
        },
        {
          "data": {"name": "candles"},
          "mark": {"type": "rule", "color": "#000000", "strokeWidth": 1},
          "encoding": {
            "x": {"field": "t", "type": "quantitative", "scale": {"domain": [-18.56, 322.18], "nice": false, "zero": false}, "axis": null},
            "y": {"field": "l", "type": "quantitative", "scale": {"domain": [1.06094, 1.08305], "nice": false, "zero": false}},
            "y2": {"field": "h"}
          }
        },
        {
          "data": {"name": "candles"},
          "mark": {"type": "bar", "size": 3.2, "stroke": "#000000", "strokeWidth": 0.8},
          "encoding": {
            "x": {"field": "t", "type": "quantitative", "scale": {"domain": [-18.56, 322.18], "nice": false, "zero": false}, "axis": null},
            "y": {"field": "o", "type": "quantitative", "scale": {"domain": [1.06094, 1.08305], "nice": false, "zero": false}},
            "y2": {"field": "c"},
            "fill": {"condition": {"test": "datum.c >= datum.o", "value": "#33a532"}, "value": "#e5176b"}
          }
        },
        {
          "data": {"name": "trend"},
          "mark": {"type": "line", "color": "#000000", "strokeWidth": 2.6, "clip": true},
          "encoding": {
            "x": {"field": "t", "type": "quantitative", "scale": {"domain": [-18.56, 322.18], "nice": false, "zero": false}, "axis": null},
            "y": {"field": "p", "type": "quantitative", "scale": {"domain": [1.06094, 1.08305], "nice": false, "zero": false}},
            "detail": {"field": "id"}
          }
        }
      ]
    },
    {
      "width": 1762,
      "height": 109,
      "layer": [
        {
          "data": {"values": [{"t": -18.56, "t2": 302.06, "a": 20, "b": 80}]},
          "mark": {"type": "rect", "color": "#e9d2fb"},
          "encoding": {
            "x": {"field": "t", "type": "quantitative", "scale": {"domain": [-18.56, 322.18], "nice": false, "zero": false}, "axis": null},
            "x2": {"field": "t2"},
            "y": {
              "field": "a", "type": "quantitative", "title": null,
              "scale": {"domain": [-9.1, 110.7], "nice": false, "zero": false},
              "axis": {"orient": "right", "offset": -104, "values": [0, 100], "format": ".2f", "ticks": false, "tickSize": 0, "labelPadding": 14, "domainColor": "#4a4a4a", "domainWidth": 1, "labelFontSize": 19, "labelColor": "#4c4f5a", "labelFont": "Roboto", "grid": false}
            },
            "y2": {"field": "b"}
          }
        },
        {
          "data": {"values": [{"t": -18.56, "t2": 302.06, "v": 20}, {"t": -18.56, "t2": 302.06, "v": 80}]},
          "mark": {"type": "rule", "color": "#5d606b", "strokeDash": [4, 3], "strokeWidth": 1},
          "encoding": {
            "x": {"field": "t", "type": "quantitative", "scale": {"domain": [-18.56, 322.18], "nice": false, "zero": false}, "axis": null},
            "x2": {"field": "t2"},
            "y": {"field": "v", "type": "quantitative", "title": null, "scale": {"domain": [-9.1, 110.7], "nice": false, "zero": false}}
          }
        },
        {
          "data": {"name": "stoch"},
          "mark": {"type": "line", "strokeWidth": 1.5, "clip": true},
          "encoding": {
            "x": {"field": "t", "type": "quantitative", "scale": {"domain": [-18.56, 322.18], "nice": false, "zero": false}, "axis": null},
            "y": {"field": "v", "type": "quantitative", "title": null, "scale": {"domain": [-9.1, 110.7], "nice": false, "zero": false}},
            "color": {"field": "s", "type": "nominal", "scale": {"domain": ["k", "d"], "range": ["#2196f3", "#ff6d00"]}, "legend": null}
          }
        }
      ]
    },
    {
      "width": 1762,
      "height": 108,
      "layer": [
        {
          "data": {"values": [{"t": -18.56, "t2": 302.06, "a": 30, "b": 70}]},
          "mark": {"type": "rect", "color": "#f3e6fc"},
          "encoding": {
            "x": {"field": "t", "type": "quantitative", "scale": {"domain": [-18.56, 322.18], "nice": false, "zero": false}, "axis": null},
            "x2": {"field": "t2"},
            "y": {
              "field": "a", "type": "quantitative", "title": null,
              "scale": {"domain": [17.5, 93.3], "nice": false, "zero": false},
              "axis": {"orient": "right", "offset": -104, "values": [40, 80], "format": ".2f", "ticks": false, "tickSize": 0, "labelPadding": 14, "domainColor": "#4a4a4a", "domainWidth": 1, "labelFontSize": 19, "labelColor": "#4c4f5a", "labelFont": "Roboto", "grid": false}
            },
            "y2": {"field": "b"}
          }
        },
        {
          "data": {"values": [{"t": -18.56, "t2": 302.06, "v": 30}, {"t": -18.56, "t2": 302.06, "v": 70}]},
          "mark": {"type": "rule", "color": "#b2b5be", "strokeDash": [4, 4], "strokeWidth": 1},
          "encoding": {
            "x": {"field": "t", "type": "quantitative", "scale": {"domain": [-18.56, 322.18], "nice": false, "zero": false}, "axis": null},
            "x2": {"field": "t2"},
            "y": {"field": "v", "type": "quantitative", "title": null, "scale": {"domain": [17.5, 93.3], "nice": false, "zero": false}}
          }
        },
        {
          "data": {"name": "rsi"},
          "mark": {"type": "line", "strokeWidth": 1.5, "clip": true, "color": "#8e24aa"},
          "encoding": {
            "x": {"field": "t", "type": "quantitative", "scale": {"domain": [-18.56, 322.18], "nice": false, "zero": false}, "axis": null},
            "y": {"field": "v", "type": "quantitative", "title": null, "scale": {"domain": [17.5, 93.3], "nice": false, "zero": false}}
          }
        }
      ]
    },
    {
      "width": 1762,
      "height": 46,
      "data": {"values": [{"t": 302.06}]},
      "mark": {"type": "rule", "color": "#4a4a4a", "strokeWidth": 1},
      "encoding": {
        "x": {
          "field": "t", "type": "quantitative",
          "scale": {"domain": [-18.56, 322.18], "nice": false, "zero": false},
          "axis": {
            "orient": "top",
            "values": [0, 48, 96, 132, 168, 216, 252, 288],
            "labelExpr": "datum.value == 0 ? 'Jun' : datum.value == 48 ? '5' : datum.value == 96 ? '7' : datum.value == 132 ? '12:00' : datum.value == 168 ? '12' : datum.value == 216 ? '14' : datum.value == 252 ? '12:00' : '19'",
            "ticks": false,
            "tickSize": 0,
            "labelPadding": -24,
            "labelBaseline": "middle",
            "labelFlush": false,
            "labelOverlap": false,
            "labelFontSize": 19,
            "labelColor": "#4c4f5a",
            "labelFont": "Roboto",
            "domainColor": "#4a4a4a",
            "domainWidth": 1,
            "grid": false,
            "title": "17",
            "titleX": 0,
            "titleY": 74,
            "titleAlign": "left",
            "titleBaseline": "middle",
            "titleFont": "DejaVu Sans",
            "titleFontSize": 22,
            "titleFontWeight": 900,
            "titleColor": "#131722"
          }
        }
      }
    }
  ],
  "config": {
    "view": {"stroke": "#e0e3eb", "strokeWidth": 1.5},
    "axis": {"grid": false},
    "font": "Roboto"
  }
}
